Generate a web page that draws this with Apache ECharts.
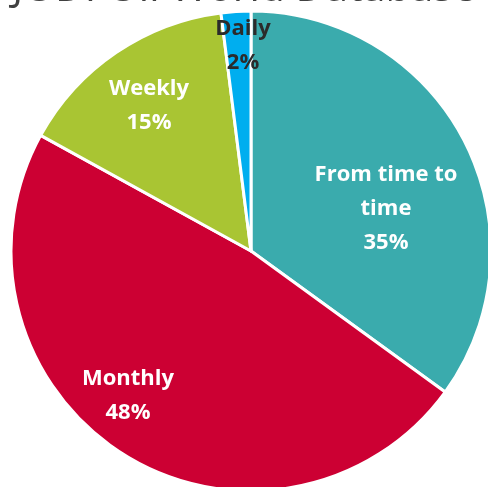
<!DOCTYPE html>
<html>
<head>
<meta charset="utf-8">
<script src="https://cdn.jsdelivr.net/npm/echarts@6/dist/echarts.min.js"></script>
<style>
    html, body { margin: 0; padding: 0; background: #fff; }
    #main { width: 488px; height: 487px; }
</style>
</head>
<body>
<div id="main"></div>
<script>
// data
var categories = ['From time to time', 'Monthly', 'Weekly', 'Daily'];
var shares = [35, 48, 15, 2];
var labelLines = ['From time to\ntime', 'Monthly', 'Weekly', 'Daily'];

var colors = ['#3aabad', '#cc0033', '#a9c533', '#00aeef'];
// where the labels sit (centre of text)
var labelPos = [[386, 209], [128, 396], [149, 106], [243, 46]];

var myChart = echarts.init(document.getElementById('main'));
var pieData = [];
for (var i = 0; i < categories.length; i++) {
    pieData.push({
        name: categories[i],
        value: shares[i],
        itemStyle: { color: colors[i] },
        label: { color: i == 3 ? '#2b2b2b' : '#ffffff' }
    });
}
var option = {
    animation: false,
    title: {
        text: 'JODI Oil World Database',
        left: 'center',
        top: -36,
        textStyle: {
            color: '#404040',
            fontSize: 41,
            fontWeight: 'normal',
            fontFamily: 'Open Sans'
        }
    },
    series: [{
        type: 'pie',
        center: [251, 251],
        radius: [0, 240],
        startAngle: 90,
        clockwise: true,
        itemStyle: {
            borderColor: '#ffffff',
            borderWidth: 3
        },
        label: {
            position: 'inside',
            fontFamily: 'Open Sans',
            fontWeight: 'bold',
            fontSize: 22,
            lineHeight: 34,
            align: 'center',
            formatter: function (p) {
                return labelLines[p.dataIndex] + '\n' + p.value + '%';
            }
        },
        labelLayout: function (p) {
            return { x: labelPos[p.dataIndex][0], y: labelPos[p.dataIndex][1] };
        },
        emphasis: { disabled: true },
        data: pieData
    }]
};
myChart.setOption(option);
</script>
</body>
</html>
